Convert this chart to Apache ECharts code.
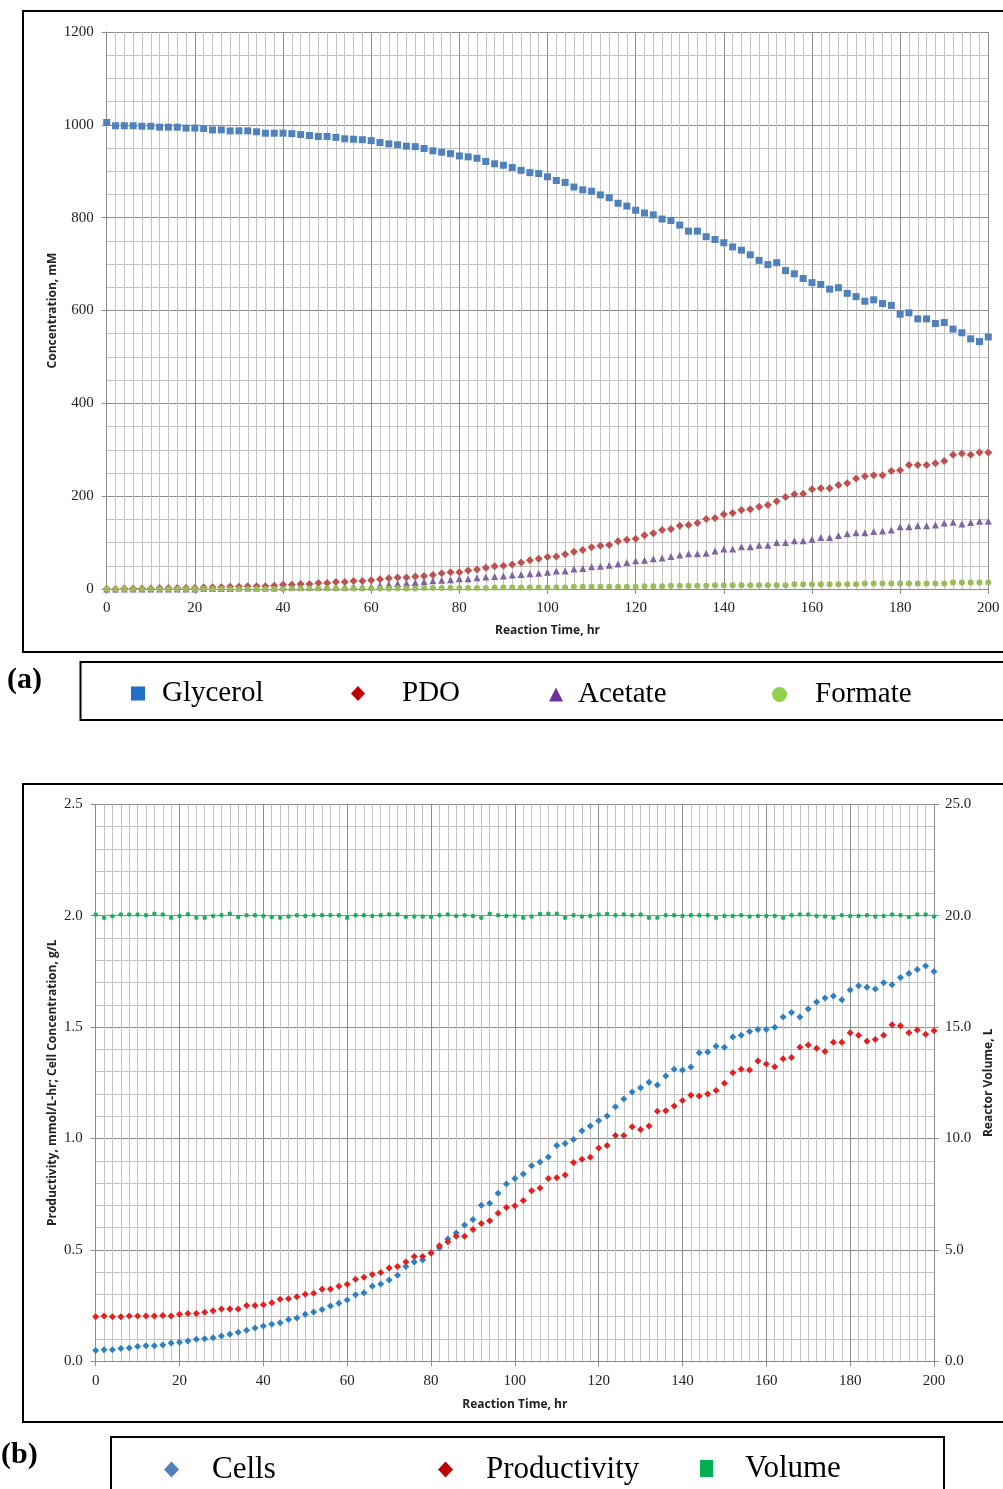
<!DOCTYPE html>
<html>
<head>
<meta charset="utf-8">
<title>Fed-batch fermentation: concentrations, cells, productivity and volume</title>
<script src="https://cdn.jsdelivr.net/npm/echarts@6/dist/echarts.min.js"></script>
<style>
  html, body { margin: 0; padding: 0; background: #ffffff; }
  #chart { width: 1003px; height: 1489px; }
</style>
</head>
<body>
<div id="chart"></div>
<script>
// Sampling times (hr), every 2 hours from 0 to 200
const hours = [];
for (let h = 0; h <= 200; h += 2) hours.push(h);

// Panel (a): concentrations, mM
const glycerol = [
  1005, 998, 998, 998, 997, 997, 995, 995, 995, 993,
  993, 992, 989, 989, 987, 987, 987, 985, 982, 982,
  982, 981, 979, 977, 975, 975, 973, 970, 969, 968,
  966, 962, 959, 957, 954, 953, 949, 944, 941, 938,
  933, 931, 928, 921, 916, 913, 908, 902, 897, 895,
  888, 880, 876, 866, 860, 857, 849, 843, 831, 825,
  816, 810, 806, 797, 794, 784, 771, 771, 759, 753,
  746, 737, 730, 720, 708, 699, 703, 686, 679, 669,
  660, 656, 646, 649, 637, 630, 620, 623, 615, 611,
  592, 595, 582, 582, 572, 574, 560, 552, 539, 533,
  543
];
const pdo = [
  0, 0, 1, 1, 1, 1, 2, 2, 2, 2,
  2, 3, 4, 4, 5, 5, 6, 6, 6, 7,
  9, 9, 11, 11, 13, 13, 15, 15, 17, 17,
  19, 21, 23, 25, 25, 27, 28, 30, 34, 36,
  36, 40, 42, 46, 49, 50, 53, 57, 62, 65,
  69, 70, 75, 80, 84, 90, 93, 95, 103, 106,
  108, 116, 120, 127, 129, 136, 138, 142, 151, 153,
  161, 164, 170, 172, 177, 181, 189, 198, 204, 205,
  215, 217, 217, 224, 228, 238, 243, 245, 245, 254,
  256, 267, 267, 267, 271, 276, 289, 292, 289, 294,
  294
];
const acetate = [
  0, 0, 0, 0, 0, 0, 0, 0, 0, 0,
  0, 1, 1, 1, 1, 2, 2, 2, 2, 2,
  3, 3, 3, 3, 4, 4, 4, 4, 5, 5,
  5, 8, 10, 12, 13, 14, 16, 18, 19, 20,
  22, 22, 24, 26, 27, 28, 30, 31, 33, 34,
  36, 39, 39, 43, 44, 48, 49, 51, 54, 57,
  61, 62, 65, 67, 70, 73, 76, 76, 77, 82,
  86, 86, 91, 91, 94, 94, 100, 100, 104, 104,
  107, 111, 111, 115, 119, 121, 121, 124, 125, 127,
  134, 134, 136, 136, 138, 142, 144, 140, 143, 146,
  146
];
const formate = [
  0, 0, 0, 0, 0, 0, 0, 0, 0, 0,
  0, 0, 0, 0, 0, 0, 0, 0, 0, 0,
  0, 1, 1, 1, 1, 1, 1, 1, 1, 1,
  1, 1, 1, 1, 1, 1, 2, 2, 2, 2,
  2, 2, 2, 2, 3, 3, 3, 3, 3, 3,
  3, 3, 3, 5, 5, 5, 5, 5, 5, 5,
  5, 6, 6, 6, 7, 7, 7, 7, 7, 8,
  8, 8, 8, 8, 8, 8, 8, 8, 10, 10,
  10, 10, 10, 10, 10, 10, 12, 12, 12, 12,
  12, 12, 12, 12, 12, 12, 14, 14, 14, 14,
  14
];

// Panel (b): cell concentration (g/L), productivity (mmol/L-hr), reactor volume (L)
const cells = [
  0.048, 0.052, 0.052, 0.057, 0.060, 0.066, 0.070, 0.070, 0.073, 0.082,
  0.085, 0.091, 0.099, 0.101, 0.106, 0.114, 0.121, 0.130, 0.139, 0.149,
  0.158, 0.166, 0.173, 0.188, 0.194, 0.211, 0.221, 0.232, 0.248, 0.260,
  0.275, 0.299, 0.308, 0.337, 0.347, 0.365, 0.386, 0.425, 0.446, 0.455,
  0.486, 0.510, 0.549, 0.576, 0.612, 0.636, 0.700, 0.709, 0.754, 0.796,
  0.820, 0.841, 0.878, 0.895, 0.917, 0.969, 0.978, 0.996, 1.035, 1.056,
  1.080, 1.101, 1.143, 1.177, 1.209, 1.228, 1.252, 1.240, 1.281, 1.311,
  1.307, 1.321, 1.385, 1.388, 1.414, 1.409, 1.456, 1.463, 1.480, 1.489,
  1.489, 1.499, 1.545, 1.566, 1.545, 1.581, 1.613, 1.631, 1.640, 1.623,
  1.667, 1.686, 1.679, 1.671, 1.699, 1.690, 1.723, 1.741, 1.759, 1.774,
  1.749
];
const productivity = [
  0.200, 0.203, 0.200, 0.200, 0.203, 0.203, 0.203, 0.203, 0.206, 0.203,
  0.211, 0.215, 0.215, 0.220, 0.227, 0.235, 0.235, 0.235, 0.250, 0.250,
  0.254, 0.263, 0.278, 0.281, 0.290, 0.301, 0.305, 0.323, 0.325, 0.337,
  0.346, 0.368, 0.377, 0.390, 0.399, 0.419, 0.425, 0.446, 0.470, 0.470,
  0.486, 0.519, 0.537, 0.561, 0.561, 0.592, 0.619, 0.631, 0.664, 0.690,
  0.698, 0.722, 0.766, 0.778, 0.820, 0.824, 0.836, 0.892, 0.907, 0.916,
  0.957, 0.969, 1.013, 1.013, 1.053, 1.040, 1.056, 1.122, 1.125, 1.146,
  1.170, 1.194, 1.191, 1.200, 1.216, 1.248, 1.295, 1.311, 1.307, 1.348,
  1.334, 1.322, 1.358, 1.363, 1.409, 1.420, 1.405, 1.390, 1.432, 1.432,
  1.475, 1.463, 1.436, 1.444, 1.463, 1.511, 1.506, 1.475, 1.487, 1.468,
  1.484
];
const volume = [
  20.05, 19.91, 19.97, 20.05, 20.05, 20.05, 20.02, 20.09, 20.05, 19.91,
  19.99, 20.06, 19.91, 19.91, 19.99, 20.02, 20.09, 19.94, 20.02, 20.02,
  19.99, 19.94, 19.91, 19.96, 20.02, 19.99, 20.02, 20.02, 20.02, 20.02,
  19.91, 20.02, 20.02, 19.99, 20.02, 20.05, 20.05, 19.94, 19.96, 19.96,
  19.94, 20.02, 20.05, 19.99, 20.02, 19.99, 19.91, 20.09, 20.02, 19.99,
  19.99, 19.91, 19.96, 20.08, 20.09, 20.09, 19.91, 20.02, 19.96, 19.99,
  20.05, 20.08, 20.02, 20.05, 20.02, 20.05, 19.91, 19.91, 20.02, 20.02,
  19.99, 20.02, 20.02, 20.02, 19.91, 19.99, 19.99, 20.02, 19.96, 19.99,
  19.99, 19.99, 19.91, 20.02, 20.05, 20.05, 19.99, 19.96, 19.91, 20.02,
  19.99, 19.99, 20.02, 19.96, 19.99, 20.05, 20.02, 19.94, 20.05, 20.05,
  19.96
];

// Axis tick settings
const concTicks = { min: 0, max: 1200, interval: 200 };
const ratioTicks = { min: 0, max: 2.5, interval: 0.5 };
const volumeTicks = { min: 0, max: 25, interval: 5 };
const timeTicks = { min: 0, max: 200, interval: 20 };

const pairs = (ys) => hours.map((h, i) => [h, ys[i]]);

const TICK_FONT = 'Liberation Serif';
const TITLE_FONT = 'Open Sans';
const LEGEND_FONT = 'Liberation Serif';

const majorLine = { show: true, lineStyle: { color: '#8c8c8c', width: 1 } };
const minorLine = { show: true, lineStyle: { color: '#c3c3c3', width: 1 } };
const titleStyle = { fontFamily: TITLE_FONT, fontWeight: 'bold', fontSize: 12, color: '#222' };
const tickStyle = { fontFamily: TICK_FONT, fontSize: 15, color: '#222' };

function timeAxis(gridIndex, gap) {
  return {
    type: 'value', gridIndex,
    min: timeTicks.min, max: timeTicks.max, interval: timeTicks.interval,
    name: 'Reaction Time, hr', nameLocation: 'middle', nameGap: gap,
    nameTextStyle: titleStyle,
    axisLine: { show: true, lineStyle: { color: '#8c8c8c' } },
    axisTick: { show: true, length: 5, lineStyle: { color: '#8c8c8c' } },
    axisLabel: Object.assign({ margin: 12 }, tickStyle),
    splitLine: majorLine,
    minorTick: { show: false, splitNumber: 10 },
    minorSplitLine: minorLine
  };
}

const chart = echarts.init(document.getElementById('chart'), null, { renderer: 'canvas' });

function legendItem(name, icon, color, left, top, w, h, size, gap) {
  return {
    data: [{ name, icon, itemStyle: { color, opacity: 1 } }],
    left, top, padding: 0, itemWidth: w, itemHeight: h, itemGap: 0,
    textStyle: { fontFamily: LEGEND_FONT, fontSize: size, color: '#000', padding: [0, 0, 0, gap] }
  };
}

const option = {
  backgroundColor: '#ffffff',
  animation: false,
  grid: [
    { left: 106.7, top: 32, width: 881.6, height: 557 },
    { left: 95.7, top: 804.3, width: 841, height: 557 }
  ],
  xAxis: [timeAxis(0, 36), timeAxis(1, 37)],
  yAxis: [
    {
      type: 'value', gridIndex: 0,
      min: concTicks.min, max: concTicks.max, interval: concTicks.interval,
      name: 'Concentration, mM', nameLocation: 'middle', nameGap: 48, nameRotate: 90, nameMoveOverlap: false,
      nameTextStyle: titleStyle,
      axisLine: { show: true, lineStyle: { color: '#8c8c8c' } },
      axisTick: { show: true, length: 5, lineStyle: { color: '#8c8c8c' } },
      axisLabel: Object.assign({ margin: 13, formatter: (v) => String(v) }, tickStyle),
      splitLine: majorLine,
      minorTick: { show: false, splitNumber: 4 },
      minorSplitLine: minorLine
    },
    {
      type: 'value', gridIndex: 1, position: 'left',
      min: ratioTicks.min, max: ratioTicks.max, interval: ratioTicks.interval,
      name: 'Productivity, mmol/L-hr; Cell Concentration, g/L', nameLocation: 'middle', nameGap: 37, nameRotate: 90, nameMoveOverlap: false,
      nameTextStyle: titleStyle,
      axisLine: { show: true, lineStyle: { color: '#8c8c8c' } },
      axisTick: { show: true, length: 5, lineStyle: { color: '#8c8c8c' } },
      axisLabel: Object.assign({ margin: 13, formatter: (v) => v.toFixed(1) }, tickStyle),
      splitLine: majorLine,
      minorTick: { show: false, splitNumber: 5 },
      minorSplitLine: minorLine
    },
    {
      type: 'value', gridIndex: 1, position: 'right',
      min: volumeTicks.min, max: volumeTicks.max, interval: volumeTicks.interval,
      name: 'Reactor Volume, L', nameLocation: 'middle', nameGap: 49, nameRotate: 90, nameMoveOverlap: false,
      nameTextStyle: titleStyle,
      axisLine: { show: true, lineStyle: { color: '#8c8c8c' } },
      axisTick: { show: true, length: 5, lineStyle: { color: '#8c8c8c' } },
      axisLabel: Object.assign({ margin: 11, formatter: (v) => v.toFixed(1) }, tickStyle),
      splitLine: { show: false }
    }
  ],
  legend: [
    legendItem('Glycerol', 'rect', '#1f6fc4', 131, 679, 14, 14, 29, 12),
    legendItem('PDO', 'diamond', '#c00000', 351, 679, 14, 15, 29, 32),
    legendItem('Acetate', 'triangle', '#7030a0', 549, 680, 14, 14, 29, 10),
    legendItem('Formate', 'circle', '#92d050', 772, 680, 15, 15, 29, 23),
    legendItem('Cells', 'diamond', '#4f81bd', 164, 1454, 15, 16, 31, 28),
    legendItem('Productivity', 'diamond', '#c00000', 438, 1454, 15, 16, 31, 28),
    legendItem('Volume', 'rect', '#00b050', 700, 1453, 13, 17, 31, 27)
  ],
  series: [
    { name: 'Glycerol', type: 'scatter', xAxisIndex: 0, yAxisIndex: 0, symbol: 'rect', symbolSize: 7, itemStyle: { color: '#4f81bd', opacity: 1 }, data: pairs(glycerol) },
    { name: 'PDO', type: 'scatter', xAxisIndex: 0, yAxisIndex: 0, symbol: 'diamond', symbolSize: 8, itemStyle: { color: '#c0504d', opacity: 1 }, data: pairs(pdo) },
    { name: 'Acetate', type: 'scatter', xAxisIndex: 0, yAxisIndex: 0, symbol: 'triangle', symbolSize: 7, itemStyle: { color: '#8064a2', opacity: 1 }, data: pairs(acetate) },
    { name: 'Formate', type: 'scatter', xAxisIndex: 0, yAxisIndex: 0, symbol: 'circle', symbolSize: 6, itemStyle: { color: '#9bbb59', opacity: 1 }, data: pairs(formate) },
    { name: 'Cells', type: 'scatter', xAxisIndex: 1, yAxisIndex: 1, symbol: 'diamond', symbolSize: 7, itemStyle: { color: '#2e7fc4', opacity: 1 }, data: pairs(cells) },
    { name: 'Productivity', type: 'scatter', xAxisIndex: 1, yAxisIndex: 1, symbol: 'diamond', symbolSize: 7, itemStyle: { color: '#e61e1e', opacity: 1 }, data: pairs(productivity) },
    { name: 'Volume', type: 'scatter', xAxisIndex: 1, yAxisIndex: 2, symbol: 'circle', symbolSize: 4.5, itemStyle: { color: '#1caf5d', opacity: 1 }, data: pairs(volume) }
  ],
  graphic: [
    // panel frames
    { type: 'rect', shape: { x: 23, y: 11, width: 1000, height: 641 }, style: { fill: null, stroke: '#000', lineWidth: 2 }, z: 100 },
    { type: 'rect', shape: { x: 80.5, y: 662, width: 940, height: 58 }, style: { fill: null, stroke: '#000', lineWidth: 2 }, z: 100 },
    { type: 'rect', shape: { x: 23, y: 784, width: 1000, height: 638 }, style: { fill: null, stroke: '#000', lineWidth: 2 }, z: 100 },
    { type: 'rect', shape: { x: 111, y: 1437, width: 833, height: 70 }, style: { fill: null, stroke: '#000', lineWidth: 2 }, z: 100 },
    // panel tags
    { type: 'text', left: 7, top: 665, style: { text: '(a)', font: 'bold 30px "Liberation Serif"', fill: '#000' }, z: 100 },
    { type: 'text', left: 1, top: 1440, style: { text: '(b)', font: 'bold 30px "Liberation Serif"', fill: '#000' }, z: 100 }
  ]
};

chart.setOption(option);
</script>
</body>
</html>
